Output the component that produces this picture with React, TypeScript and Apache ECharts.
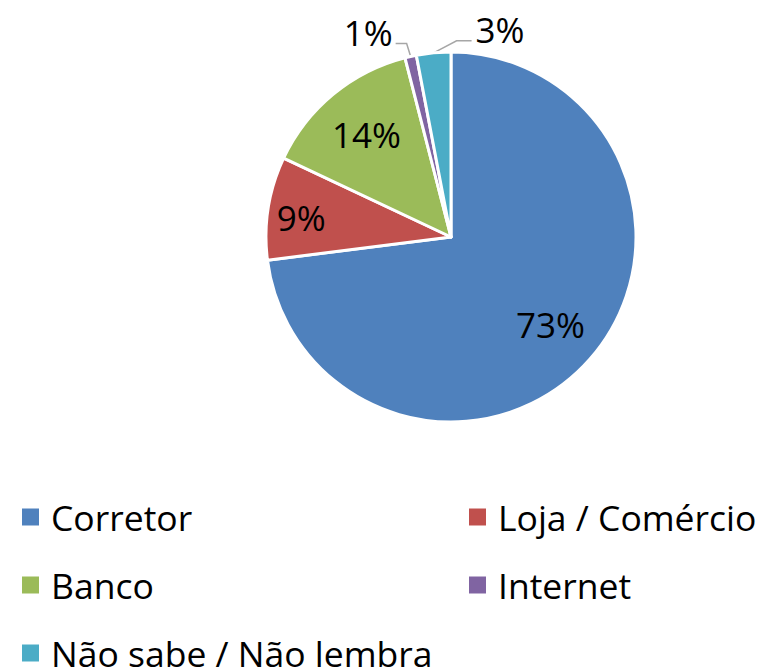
import React, { useEffect, useRef } from "react";
import * as echarts from "echarts";

const categories = ["Corretor", "Loja / Comércio", "Banco", "Internet", "Não sabe / Não lembra"];
const values = [73, 9, 14, 1, 3];
const colors = ["#4F81BD", "#C0504D", "#9BBB59", "#8064A2", "#4BACC6"];
const insideLabelIdx = [0, 1, 2];
const leftLegend = [0, 2, 4];
const rightLegend = [1, 3];

const FONT = "'Open Sans', 'Noto Sans', sans-serif";

export default function App() {
  const ref = useRef<HTMLDivElement>(null);
  useEffect(() => {
    if (!ref.current) return;
    const chart = echarts.init(ref.current, null, { renderer: "svg" });
    const R = 185;
    const mainData = categories.map((name, i) => ({
      name,
      value: values[i],
      itemStyle: { color: colors[i] },
      label: { show: !insideLabelIdx.includes(i) },
      labelLine: { show: !insideLabelIdx.includes(i) },
    }));
    const overlayData = categories.map((name, i) => ({
      name,
      value: values[i],
      itemStyle: { color: "rgba(0,0,0,0)", borderWidth: 0 },
      label: { show: insideLabelIdx.includes(i) },
    }));
    const legendCommon = {
      type: "plain",
      orient: "vertical" as const,
      icon: "rect",
      itemWidth: 19,
      itemHeight: 19,
      itemGap: 32,
      selectedMode: false,
      padding: 0,
      height: 200,
      textStyle: {
        fontFamily: FONT,
        fontSize: 35.5,
        color: "#000",
        lineHeight: 34,
        padding: [0, 0, 0, 6],
      },
    };
    chart.setOption({
      animation: false,
      backgroundColor: "#fff",
      legend: [
        {
          ...legendCommon,
          left: 20,
          top: 499,
          data: leftLegend.map((i) => ({ name: categories[i], itemStyle: { color: colors[i] } })),
        },
        {
          ...legendCommon,
          left: 467,
          top: 499,
          data: rightLegend.map((i) => ({ name: categories[i], itemStyle: { color: colors[i] } })),
        },
      ],
      series: [
        {
          type: "pie",
          center: [451, 237],
          radius: [0, R],
          startAngle: 90,
          clockwise: true,
          avoidLabelOverlap: false,
          silent: true,
          itemStyle: { borderColor: "#fff", borderWidth: 3 },
          label: {
            position: "outside",
            formatter: "{c}%",
            fontFamily: FONT,
            fontSize: 35,
            color: "#000",
          },
          labelLine: {
            show: true,
            length: 14,
            length2: 11,
            smooth: false,
            lineStyle: { color: "#A6A6A6", width: 1.5 },
          },
          labelLayout: (p: any) => {
            const pts = p.labelLinePoints;
            if (!pts || !pts[0]) return {};
            const x0 = pts[0][0];
            const y0 = pts[0][1];
            if (p.dataIndex === 3) {
              const p1 = [x0 - 4, y0 - 13];
              const p2 = [p1[0] - 11, p1[1]];
              return {
                x: p2[0] - 3,
                y: p2[1] - 11,
                align: "right",
                verticalAlign: "middle",
                labelLinePoints: [[x0, y0], p1, p2],
              };
            }
            if (p.dataIndex === 4) {
              const p1 = [x0 + 23, y0 - 12];
              const p2 = [p1[0] + 15, p1[1]];
              return {
                x: p2[0] + 4,
                y: p2[1] - 11,
                align: "left",
                verticalAlign: "middle",
                labelLinePoints: [[x0, y0], p1, p2],
              };
            }
            return {};
          },
          data: mainData,
        },
        {
          type: "pie",
          center: [451, 237],
          radius: [R * 0.55, R * 0.85],
          startAngle: 90,
          clockwise: true,
          avoidLabelOverlap: false,
          silent: true,
          legendHoverLink: false,
          label: {
            position: "inside",
            formatter: "{c}%",
            fontFamily: FONT,
            fontSize: 35,
            color: "#000",
          },
          labelLine: { show: false },
          labelLayout: (p: any) => {
            if (p.dataIndex === 1) return { dx: -19, dy: 1 };
            return {};
          },
          data: overlayData,
        },
      ],
    });
    return () => chart.dispose();
  }, []);
  return (
    <div
      ref={ref}
      style={{ position: "fixed", left: 0, top: 0, width: 774, height: 670 }}
    />
  );
}
